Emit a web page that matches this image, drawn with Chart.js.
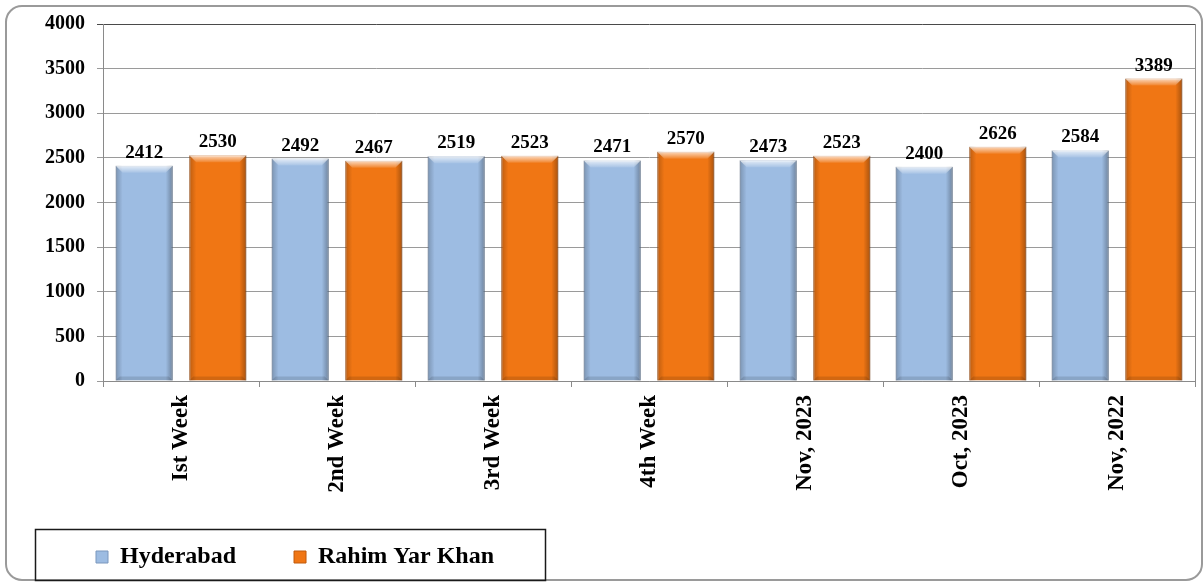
<!DOCTYPE html>
<html>
<head>
<meta charset="utf-8">
<script src="https://cdn.jsdelivr.net/npm/chart.js@4/dist/chart.umd.min.js"></script>
<style>
  html, body { margin: 0; padding: 0; background: #ffffff; }
  #wrap { position: relative; width: 1204px; height: 582px; }
</style>
</head>
<body>
<div id="wrap"><canvas id="c" width="1204" height="582"></canvas></div>
<script>
const categories = ["Ist Week", "2nd Week", "3rd Week", "4th Week", "Nov, 2023", "Oct, 2023", "Nov, 2022"];
const hyderabad = [2412, 2492, 2519, 2471, 2473, 2400, 2584];
const rahimYarKhan = [2530, 2467, 2523, 2570, 2523, 2626, 3389];
const seriesNames = ["Hyderabad", "Rahim Yar Khan"];
const yTicks = [0, 500, 1000, 1500, 2000, 2500, 3000, 3500, 4000];

const SERIF = "'Liberation Serif', 'Times New Roman', serif";

const frame = {
  id: 'frame',
  beforeDraw(chart) {
    const ctx = chart.ctx;
    ctx.save();
    ctx.fillStyle = '#ffffff';
    ctx.fillRect(0, 0, chart.width, chart.height);
    ctx.strokeStyle = '#9a9a9a';
    ctx.lineWidth = 2;
    ctx.beginPath();
    ctx.roundRect(6, 6, 1196, 574, 16);
    ctx.stroke();
    ctx.restore();
    const lg = chart.legend;
    if (lg) { lg.left = 38; lg.top = 487; }
  },
  afterDraw(chart) {
    const ctx = chart.ctx;
    const a = chart.chartArea;
    ctx.save();
    ctx.strokeStyle = '#8a8a8a';
    ctx.lineWidth = 1;
    ctx.beginPath();
    ctx.moveTo(Math.round(a.right) + 0.5, a.top);
    ctx.lineTo(Math.round(a.right) + 0.5, a.bottom);
    ctx.stroke();
    ctx.strokeStyle = '#1a1a1a';
    ctx.lineWidth = 1.5;
    ctx.strokeRect(35.5, 529.5, 510, 51);
    ctx.restore();
  }
};

const bevel = {
  id: 'bevel',
  afterDatasetsDraw(chart) {
    const ctx = chart.ctx;
    ctx.save();
    chart.data.datasets.forEach((ds, di) => {
      const meta = chart.getDatasetMeta(di);
      meta.data.forEach((bar, i) => {
        const l = bar.x - bar.width / 2, r = bar.x + bar.width / 2;
        const t = bar.y, b = bar.base;
        const e = 7;
        let g = ctx.createLinearGradient(l, 0, l + e, 0);
        g.addColorStop(0, 'rgba(0,0,0,0.22)');
        g.addColorStop(1, 'rgba(0,0,0,0)');
        ctx.fillStyle = g;
        ctx.fillRect(l, t, e, b - t);
        g = ctx.createLinearGradient(r - e, 0, r, 0);
        g.addColorStop(0, 'rgba(0,0,0,0)');
        g.addColorStop(1, 'rgba(0,0,0,0.3)');
        ctx.fillStyle = g;
        ctx.fillRect(r - e, t, e, b - t);
        g = ctx.createLinearGradient(0, t, 0, t + e);
        g.addColorStop(0, 'rgba(255,255,255,0.75)');
        g.addColorStop(1, 'rgba(255,255,255,0.1)');
        ctx.fillStyle = g;
        ctx.beginPath();
        ctx.moveTo(l, t);
        ctx.lineTo(r, t);
        ctx.lineTo(r - e, t + e);
        ctx.lineTo(l + e, t + e);
        ctx.closePath();
        ctx.fill();
        ctx.fillStyle = 'rgba(0,0,0,0.12)';
        ctx.beginPath();
        ctx.moveTo(l, b);
        ctx.lineTo(r, b);
        ctx.lineTo(r - 4, b - 4);
        ctx.lineTo(l + 4, b - 4);
        ctx.closePath();
        ctx.fill();
        ctx.fillStyle = '#000000';
        ctx.font = 'bold 19px ' + SERIF;
        ctx.textAlign = 'center';
        ctx.textBaseline = 'alphabetic';
        ctx.fillText(String(ds.data[i]), bar.x, t - 8);
      });
    });
    ctx.restore();
  }
};

new Chart(document.getElementById('c'), {
  type: 'bar',
  data: {
    labels: categories,
    datasets: [
      {
        label: seriesNames[0],
        data: hyderabad,
        backgroundColor: '#9dbce2',
        borderColor: '#7b97bd',
        borderWidth: 1,
        categoryPercentage: 0.944,
        barPercentage: 0.775
      },
      {
        label: seriesNames[1],
        data: rahimYarKhan,
        backgroundColor: '#f07614',
        borderColor: '#c05a0c',
        borderWidth: 1,
        categoryPercentage: 0.944,
        barPercentage: 0.775
      }
    ]
  },
  options: {
    responsive: false,
    animation: false,
    devicePixelRatio: 1,
    layout: { padding: { left: 38, right: 9, top: 21, bottom: 0 } },
    plugins: {
      legend: {
        position: 'bottom',
        align: 'start',
        maxHeight: 61,
        labels: {
          color: '#000000',
          font: { family: SERIF, size: 24, weight: 'bold' },
          boxWidth: 12,
          boxHeight: 12,
          padding: 58
        }
      },
      tooltip: { enabled: false }
    },
    scales: {
      x: {
        grid: {
          display: true,
          offset: true,
          drawOnChartArea: false,
          drawTicks: true,
          tickLength: 6,
          color: '#8a8a8a'
        },
        border: { display: true, color: '#8a8a8a' },
        ticks: {
          color: '#000000',
          font: { family: SERIF, size: 23, weight: 'bold' },
          minRotation: 90,
          maxRotation: 90,
          padding: 8,
          autoSkip: false
        },
        afterFit(scale) { scale.height = 140; }
      },
      y: {
        min: yTicks[0],
        max: yTicks[yTicks.length - 1],
        afterBuildTicks(scale) { scale.ticks = yTicks.map(v => ({ value: v })); },
        grid: {
          color: (c) => (c.tick && c.tick.value === 4000) ? '#4a4a4a' : '#9a9a9a',
          tickLength: 6,
          drawTicks: true
        },
        border: { display: true, color: '#8a8a8a' },
        ticks: {
          color: '#000000',
          font: { family: SERIF, size: 20, weight: 'bold' },
          padding: 12,
          callback: (v) => String(v)
        },
        afterFit(scale) { scale.width = 65; }
      }
    }
  },
  plugins: [frame, bevel]
});
</script>
</body>
</html>
